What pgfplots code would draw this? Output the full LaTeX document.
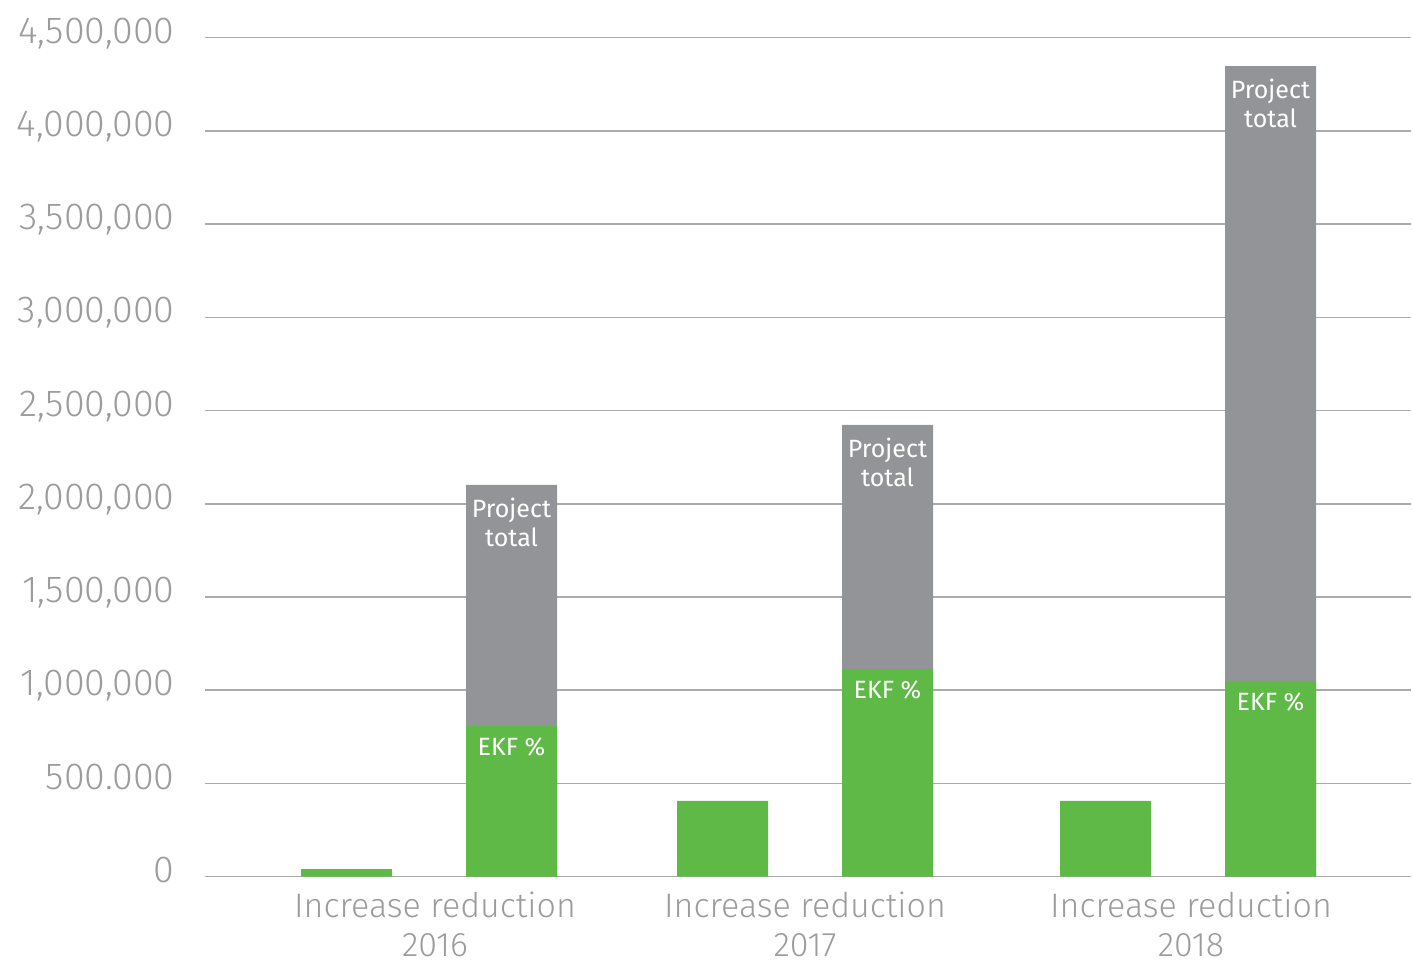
\documentclass[border=0pt]{standalone}
\usepackage{fontspec}
\usepackage{pgfplots}
\pgfplotsset{compat=1.18}
\usetikzlibrary{calc}
\setmainfont{Fira Sans}
\newfontfamily\lightfont{Fira Sans Light}
\definecolor{ekfgreen}{HTML}{5EB946}
\definecolor{bargray}{HTML}{939497}
\definecolor{gridgray}{HTML}{ABABAB}
\definecolor{labelgray}{HTML}{9C9C9F}
\begin{document}
\begin{tikzpicture}
\begin{axis}[
  name=main,
  scale only axis,
  width=603pt, height=419.5pt,
  xmin=-0.5872, xmax=2.5907,
  ymin=0, ymax=4500000,
  axis line style={draw=none},
  major tick length=0pt,
  ytick={0,500000,1000000,1500000,2000000,2500000,3000000,3500000,4000000,4500000},
  yticklabels={0,{500.000},{1,000,000},{1,500,000},{2,000,000},{2,500,000},{3,000,000},{3,500,000},{4,000,000},{4,500,000}},
  scaled y ticks=false,
  ymajorgrids,
  major grid style={gridgray, line width=0.75pt},
  xtick={0.0189,0.9939,2.011},
  xticklabels={{Increase reduction\\2016},{Increase reduction\\2017},{Increase reduction\\2018}},
  xticklabel style={align=center, font=\lightfont\fontsize{17}{19.5}\selectfont, text=labelgray, anchor=north, inner sep=0pt, yshift=-7.2pt},
  yticklabel style={anchor=base east, inner sep=0pt, xshift=-15pt, yshift=-2.8pt, font=\lightfont\fontsize{18.8}{18.8}\selectfont, text=labelgray},
  ybar, bar width=0.2398, bar shift=0pt,
  clip=false,
]
% project total (gray, full height)
\addplot[fill=bargray, draw=none,
  nodes near coords={Project\\total},
  every node near coord/.append style={anchor=north, align=center, text=white, inner sep=0pt, yshift=-6.5pt, font=\fontsize{12.5}{14.5}\selectfont}]
  coordinates {(0.2205,2101000) (1.2113,2423000) (2.2205,4348000)};
% EKF share (green, drawn over gray)
\addplot[fill=ekfgreen, draw=none,
  nodes near coords={EKF \%},
  every node near coord/.append style={anchor=north, align=center, text=white, inner sep=0pt, yshift=-5.8pt, font=\fontsize{12.5}{14.5}\selectfont}]
  coordinates {(0.2205,808000) (1.2113,1114000) (2.2205,1050000)};
% increase reduction (green, small bars)
\addplot[fill=ekfgreen, draw=none]
  coordinates {(-0.2143,41000) (0.7765,406000) (1.7857,406000)};
\end{axis}
\pgfresetboundingbox
\path ($(main.south west)+(-102.5pt,-42.15pt)$) rectangle ($(main.north east)+(1pt,18.85pt)$);
\end{tikzpicture}
\end{document}
